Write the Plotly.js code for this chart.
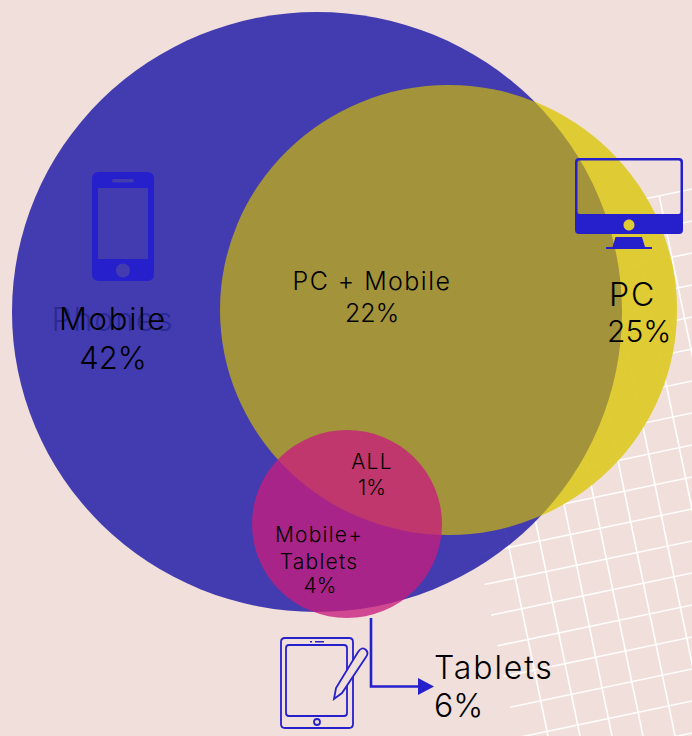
<!DOCTYPE html>
<html><head><meta charset="utf-8">
<script src="https://cdn.plot.ly/plotly-3.0.0.min.js"></script>
<style>html,body{margin:0;padding:0;background:#F0DFDA}</style></head>
<body><div id="chart" style="width:692px;height:736px"></div>
<script>
// Chart values
const segments = ["Mobile", "PC", "PC + Mobile", "ALL", "Mobile+", "Tablets", "Tablets"];
const shares = [42, 25, 22, 1, 4, 6];
const ghostLabel = "Phones";

// Venn circles (frame pixels)
const circleNames = ["Mobile", "PC", "Tablets"];
const circleX = [317, 448.5, 347];
const circleY = [312, 310, 524];
const circleRx = [305, 228.5, 95];
const circleRy = [300, 225, 94];
const circleFill = ["rgba(47,42,171,0.9)", "rgba(214,193,0,0.66)", "rgba(198,30,124,0.78)"];

// Label anchors
const nameX = [113, 609, 372, 372, 319, 319, 434];
const nameY = [322, 298, 284, 464, 537, 564, 671];
const nameSize = [31, 32, 25, 21, 21, 21, 32];
const namePos = ["middle center", "middle right", "middle center", "middle center", "middle center", "middle center", "middle right"];
const shareX = [113, 607, 372, 372, 320, 434];
const shareY = [361, 334, 316, 490, 588, 709];
const shareSize = [31, 30, 25, 21, 21, 32];
const sharePos = ["middle center", "middle right", "middle center", "middle center", "middle center", "middle right"];

const BG = "#F0DFDA", ICON = "#2620CC";
const shapes = [];

// Background grid
const gridA = [189,221,253,285,317,349,381,413,445,477,509,541,573,605,637,669,701,733,765];
const gridB = [548,580,612,643,675,707,739,771];
const sA = 0.21, sB = 0.207;
gridA.forEach(y0 => {
  let yl = y0 + sA * 200;
  for (let i = 0; i < 6; i++) { const xl = 516 - sB * (736 - yl); yl = y0 + sA * (692 - xl); }
  const xl = 516 - sB * (736 - yl);
  shapes.push({type:"line", xref:"x", yref:"y", layer:"below", x0:xl, y0:yl, x1:700, y1:y0 - sA*8, line:{color:"rgba(255,255,255,0.92)", width:1.7}});
});
gridB.forEach(x0 => {
  let yt = 300;
  for (let i = 0; i < 6; i++) { const xt = x0 - sB * (736 - yt); yt = 189 + sA * (692 - xt); }
  const xt = x0 - sB * (736 - yt);
  shapes.push({type:"line", xref:"x", yref:"y", layer:"below", x0:xt, y0:yt, x1:x0 + sB*10, y1:746, line:{color:"rgba(255,255,255,0.92)", width:1.7}});
});

const ell = (i, fill) => ({
  type:"circle", xref:"x", yref:"y", layer:"below", name:circleNames[i],
  x0:circleX[i]-circleRx[i], x1:circleX[i]+circleRx[i], y0:circleY[i]-circleRy[i], y1:circleY[i]+circleRy[i],
  fillcolor:fill, line:{width:0}
});
// pale underlay keeps the PC-only area saturated
shapes.push(ell(1, "rgba(240,222,133,0.8)"));
const shadowed = [];
[0,1,2].forEach(i => { shadowed.push(shapes.length); shapes.push(ell(i, circleFill[i])); });

// Path helpers
const rr = (x0,y0,x1,y1,r) => `M${x0+r},${y0} L${x1-r},${y0} Q${x1},${y0} ${x1},${y0+r} L${x1},${y1-r} Q${x1},${y1} ${x1-r},${y1} L${x0+r},${y1} Q${x0},${y1} ${x0},${y1-r} L${x0},${y0+r} Q${x0},${y0} ${x0+r},${y0} Z `;
const disc = (cx,cy,r) => { const k = r*0.5523; return `M${cx-r},${cy} C${cx-r},${cy-k} ${cx-k},${cy-r} ${cx},${cy-r} C${cx+k},${cy-r} ${cx+r},${cy-k} ${cx+r},${cy} C${cx+r},${cy+k} ${cx+k},${cy+r} ${cx},${cy+r} C${cx-k},${cy+r} ${cx-r},${cy+k} ${cx-r},${cy} Z `; };
const icon = (path, o={}) => shapes.push(Object.assign({type:"path", xref:"x", yref:"y", layer:"below", path, fillcolor:ICON, line:{width:0}}, o));

// Phone
icon(rr(92,172,154,281,7) + rr(98,188,148,259,0) + rr(112,179,134,182.5,1.7) + disc(123,270.5,7));
// Monitor
icon(rr(575,158,683,234,4) + rr(577.5,160.5,680.5,214,2) + disc(629,225,5.5));
icon("M615.5,237 L642,237 L645,247 L652,247 L652,249 L606,249 L606,247 L612.5,247 Z");
// Tablet
const thin = {fillcolor:"rgba(0,0,0,0)", line:{color:ICON, width:1.8}};
icon(rr(281,638,353,728,4), thin);
icon(rr(286,645,347,716,3), thin);
icon(disc(317,722,3), thin);
icon("M310,641 L312,641 L312,642.6 L310,642.6 Z M315,641 L324,641 L324,642.6 L315,642.6 Z");
icon("M334,699 L336,688 L358,652 Q362,646 366,650 Q369,653 366,657 L342,693 Z", {fillcolor:BG, line:{color:ICON, width:1.8}});
// Connector
shadowed.push(shapes.length);
icon("M371,618 L371,686.5 L420,686.5", {fillcolor:"rgba(0,0,0,0)", line:{color:ICON, width:2.6}});
shadowed.push(shapes.length);
icon("M418,678 L434,686.5 L418,695 Z");

const fam = "Inter, 'Noto Sans', sans-serif";
const traces = [
  {type:"scatter", mode:"text", x:[113], y:[323], text:[ghostLabel], textposition:"middle center",
   textfont:{family:fam, size:32, color:"#2B2993", weight:300}, hoverinfo:"skip", showlegend:false},
  {type:"scatter", mode:"text", x:nameX, y:nameY, text:segments, textposition:namePos,
   textfont:{family:fam, size:nameSize, color:"#000000", weight:300}, hoverinfo:"skip", showlegend:false},
  {type:"scatter", mode:"text", x:shareX, y:shareY, text:shares.map(v => v + "%"), textposition:sharePos,
   textfont:{family:fam, size:shareSize, color:"#000000", weight:300}, hoverinfo:"skip", showlegend:false}
];

Plotly.newPlot("chart", traces, {
  width:692, height:736, margin:{l:0,r:0,t:0,b:0},
  paper_bgcolor:BG, plot_bgcolor:BG, showlegend:false,
  xaxis:{range:[0,692], visible:false, fixedrange:true},
  yaxis:{range:[736,0], visible:false, fixedrange:true},
  shapes
}, {displayModeBar:false, staticPlot:true}).then(gd => {
  // soft outer shadow only: the translucent fills stay clean
  const svg = gd.querySelector("svg.main-svg");
  const NS = "http://www.w3.org/2000/svg";
  const defs = svg.querySelector("defs") || svg.insertBefore(document.createElementNS(NS,"defs"), svg.firstChild);
  const f = document.createElementNS(NS,"filter");
  f.setAttribute("id","outerShadow");
  f.setAttribute("x","-10%"); f.setAttribute("y","-10%"); f.setAttribute("width","120%"); f.setAttribute("height","120%");
  f.innerHTML = '<feComponentTransfer in="SourceAlpha" result="mask"><feFuncA type="linear" slope="30"/></feComponentTransfer>'
    + '<feGaussianBlur in="mask" stdDeviation="2.5"/><feOffset dx="2" dy="3" result="off"/>'
    + '<feFlood flood-color="#000" flood-opacity="0.3"/><feComposite in2="off" operator="in"/>'
    + '<feComposite in2="mask" operator="out" result="sh"/>'
    + '<feMerge><feMergeNode in="sh"/><feMergeNode in="SourceGraphic"/></feMerge>';
  defs.appendChild(f);
  const paths = gd.querySelectorAll(".layer-below .shapelayer path");
  shadowed.forEach(i => { if (paths[i]) paths[i].setAttribute("filter","url(#outerShadow)"); });
  // wider letterforms for the name labels
  const tr = gd.querySelectorAll(".scatterlayer .trace");
  [0,1].forEach(i => tr[i].querySelectorAll("text").forEach(t => t.style.letterSpacing = "0.058em"));
});
</script></body></html>
